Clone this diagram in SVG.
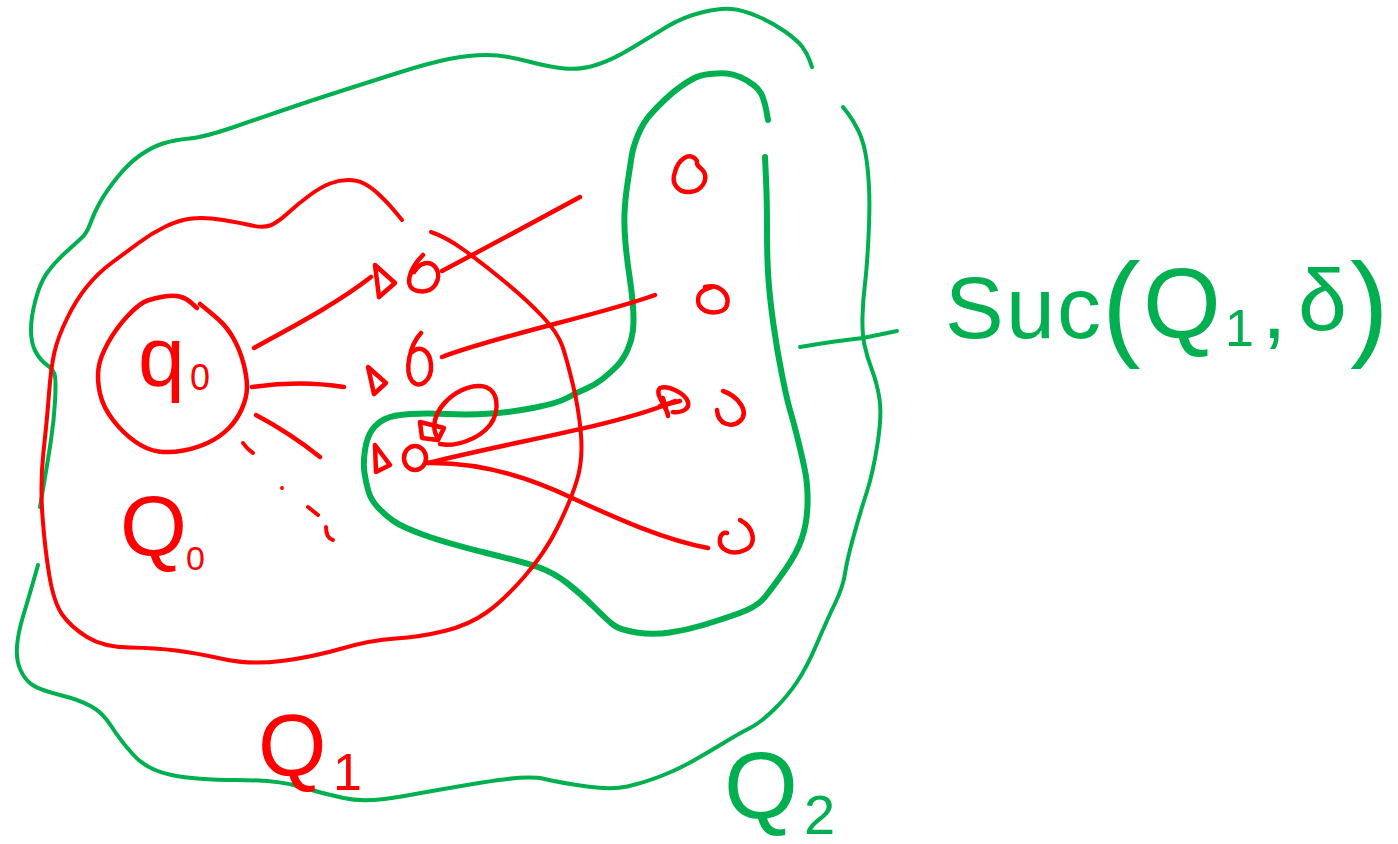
<svg xmlns="http://www.w3.org/2000/svg" width="1398" height="844" viewBox="0 0 1398 844">
<style>
.r{fill:none;stroke:#ff0000;stroke-width:4.5;stroke-linecap:round;stroke-linejoin:round}
.rt{fill:none;stroke:#ff0000;stroke-width:4;stroke-linecap:round;stroke-linejoin:round}
.g{fill:none;stroke:#00b050;stroke-width:4;stroke-linecap:round;stroke-linejoin:round}
.gk{fill:none;stroke:#00b050;stroke-width:6;stroke-linecap:round;stroke-linejoin:round}
.tr{fill:#ff0000;font-family:"Liberation Sans",Arial,sans-serif}
.tg{fill:#00b050;font-family:"Liberation Sans",Arial,sans-serif}
</style>
<rect width="1398" height="844" fill="#ffffff"/>
<g id="region-Q2-outer">
<path class="g" d="M812,67 L809.5,60 Q807,53 802,46.5 Q797,40 785,31.5 Q773,23 758,16.5 Q743,10 731.5,9 Q720,8 701.5,12.5 Q683,17 666.5,27 Q650,37 631,48.5 Q612,60 596,65 Q580,70 564.5,68.5 Q549,67 526.5,61 Q504,55 486.5,55 Q469,55 449,59 Q429,63 397.5,73 Q366,83 339.5,91.5 Q313,100 288,108.5 Q263,117 234,127 Q205,137 189.5,138.5 Q174,140 163,143.5 Q152,147 140.5,155 Q129,163 118,176.5 Q107,190 100.5,201.5 Q94,213 90.5,223 Q87,233 81.5,238 Q76,243 65,253 Q54,263 47,273 Q40,283 35.5,300 Q31,317 31,330 Q31,343 35.5,351.5 Q40,360 47,365 Q54,370 55,376.5 Q56,383 55,401.5 Q54,420 51,440 Q48,460 44,483.5 L40,507"/>
<path class="g" d="M38,565 L33,582.5 Q28,600 23,616.5 Q18,633 17,646.5 Q16,660 20.5,670 Q25,680 32.5,685 Q40,690 60,695 Q80,700 91.5,706.5 Q103,713 111.5,726.5 Q120,740 133.5,755 Q147,770 171.5,775 Q196,780 236.5,780 Q277,780 299,786.5 Q321,793 343.5,798 Q366,803 401.5,796.5 Q437,790 482,782.5 Q527,775 544.5,779 Q562,783 587,786.5 Q612,790 627.5,786.5 Q643,783 660,776.5 Q677,770 692,761.5 Q707,753 723.5,743 Q740,733 750,728 Q760,723 773.5,710 Q787,697 797,682 Q807,667 817,643.5 Q827,620 835,603.5 Q843,587 845,573.5 Q847,560 853.5,536.5 Q860,513 866.5,493 Q873,473 877.5,444 Q882,415 879.5,399 Q877,383 872,370 Q867,357 864.5,345 Q862,333 862.5,316.5 Q863,300 865,283.5 Q867,267 868.5,237 Q870,207 869,187 Q868,167 865.5,153.5 Q863,140 858,130 Q853,120 848,113.5 L843,107"/>
</g>
<g id="region-suc">
<path class="gk" d="M768,120 L766.5,111.5 Q765,103 762.5,96.5 Q760,90 753.5,85 Q747,80 740,77 Q733,74 726.5,73.5 Q720,73 710,74 Q700,75 693.5,78.5 Q687,82 680,87 Q673,92 665,99.5 Q657,107 650,115 Q643,123 638,135 Q633,147 631.5,157 Q630,167 627.5,183.5 Q625,200 624.5,213.5 Q624,227 625.5,243.5 Q627,260 629.5,276.5 Q632,293 633,306.5 Q634,320 633,330 Q632,340 627.5,350 Q623,360 616.5,366.5 Q610,373 602.5,379 Q595,385 585.5,389 Q576,393 567,398 Q558,403 535.5,407.5 Q513,412 491,413.5 Q469,415 448,414 Q427,413 410,414 Q393,415 385,419 Q377,423 372,430 Q367,437 365,450 Q363,463 364.5,473 Q366,483 368.5,491.5 Q371,500 378,507.5 Q385,515 393.5,521 Q402,527 424,535 Q446,543 486.5,553 Q527,563 540.5,568 Q554,573 567,583 Q580,593 593.5,606.5 Q607,620 613.5,625 Q620,630 636.5,632.5 Q653,635 670,632.5 Q687,630 703.5,625 Q720,620 738.5,613.5 Q757,607 765,597 Q773,587 785,570 Q797,553 802,538 Q807,523 807.5,505 Q808,487 805.5,473.5 Q803,460 798,440 Q793,420 790,410 Q787,400 782,375 Q777,350 773.5,325 Q770,300 768.5,280 Q767,260 767,230 Q767,200 766,178.5 L765,157"/>
</g>
<g id="region-Q1">
<path class="rt" d="M402,220 L395,211.5 Q388,203 379.5,195 Q371,187 364,183.5 Q357,180 348,180 Q339,180 330,183.5 Q321,187 310,195 Q299,203 288,213 Q277,223 270,225.5 Q263,228 252,225.5 Q241,223 223,220 Q205,217 192,218.5 Q179,220 165.5,226.5 Q152,233 138.5,243 Q125,253 111.5,263 Q98,273 87,286.5 Q76,300 67,318.5 Q58,337 54.5,352 Q51,367 49,393.5 Q47,420 43.5,451.5 Q40,483 42.5,516.5 Q45,550 49.5,576.5 Q54,603 62.5,615 Q71,627 87,637 Q103,647 129.5,647.5 Q156,648 176,650.5 Q196,653 223,659 Q250,665 281.5,661 Q313,657 342,648.5 Q371,640 395.5,638.5 Q420,637 444.5,631 Q469,625 486.5,612.5 Q504,600 524.5,576.5 Q545,553 558,526.5 Q571,500 577,480 Q583,460 581,435 Q579,410 573,385 Q567,360 562.5,346.5 Q558,333 542.5,316.5 Q527,300 504.5,281.5 Q482,263 464,250 Q446,237 431,232"/>
</g>
<g id="node-q0">
<path class="r" d="M197,308 L191.5,303 Q186,298 179.5,296.5 Q173,295 164,296.5 Q155,298 147.5,300.5 Q140,303 128.5,315 Q117,327 108.5,342 Q100,357 98.5,368.5 Q97,380 100,393.5 Q103,407 113,420 Q123,433 135,441.5 Q147,450 158.5,451.5 Q170,453 183.5,450.5 Q197,448 208.5,442.5 Q220,437 228.5,428.5 Q237,420 242,408.5 Q247,397 247,387 Q247,377 243.5,363.5 Q240,350 233.5,338.5 Q227,327 218.5,319.5 Q210,312 200,304"/>
<text class="tr" x="138" y="386" font-size="84">q<tspan font-size="36" x="190" y="390">0</tspan></text>
</g>
<g id="label-Q0">
<text class="tr" x="120" y="556" font-size="86">Q<tspan font-size="34" x="186" y="570">0</tspan></text>
</g>
<g id="label-Q1">
<text class="tr" x="258" y="776" font-size="88">Q<tspan font-size="52" x="333" y="790">1</tspan></text>
</g>
<g id="label-Q2">
<text class="tg" x="724" y="818" font-size="95">Q<tspan font-size="56" x="804" y="834">2</tspan></text>
</g>
<g id="label-suc">
<text class="tg" font-size="88" y="338"><tspan x="945">S</tspan><tspan x="1006">u</tspan><tspan x="1057">c</tspan><tspan x="1102" font-size="116" y="345">(</tspan><tspan x="1143" font-size="100" y="338">Q</tspan><tspan x="1225" font-size="52" y="346">1</tspan><tspan x="1262" y="338">,</tspan><tspan x="1298" y="330">δ</tspan><tspan x="1350" font-size="116" y="345">)</tspan></text>
</g>
<g id="state-a1">
<path class="r" d="M423,255 C410,268 402,288 418,291 C435,294 442,278 436,268 C430,260 420,262 414,272"/>
</g>
<g id="state-a2">
<path class="r" d="M421,333 C410,345 404,370 412,381 C420,390 432,380 431,365 C430,350 420,345 412,352"/>
</g>
<g id="state-a3">
<ellipse class="r" cx="415" cy="458" rx="11" ry="12"/>
</g>
<g id="state-r1">
<path class="r" d="M697,161 C690,150 678,160 675,172 C670,185 680,193 690,192 C702,191 708,180 704,172 C701,167 697,167 697,163"/>
</g>
<g id="state-r2">
<path class="r" d="M705,287 C720,283 730,295 727,305 C724,315 705,315 699,305 C696,296 700,290 712,287"/>
</g>
<g id="state-r3">
<path class="r" d="M723,391 C738,396 750,412 740,421 C732,428 718,425 717,410"/>
</g>
<g id="state-r4">
<path class="r" d="M740,520 C755,528 757,545 745,550 C732,556 718,550 720,538 C721,534 724,532 727,533"/>
</g>
<g id="connectors">
<path class="r" d="M254,348 C290,328 335,305 371,277"/>
<path class="r" d="M375,265 L395,283 L379,297 Z"/>
<path class="r" d="M252,387 Q300,380 344,387"/>
<path class="r" d="M368,367 L386,383 L374,394 Z"/>
<path class="r" d="M256,415 Q290,433 320,457"/>
<path class="rt" d="M243,443 Q247,449 253,453"/>
<circle cx="282" cy="488" r="2" fill="#ff0000"/>
<path class="rt" d="M308,507 L318,515"/>
<path class="rt" d="M326,527 Q326,538 333,540"/>
<path class="r" d="M442,271 Q510,235 580,197"/>
<path class="r" d="M442,357 C500,335 600,315 655,295"/>
<path class="r" d="M437,437 C425,415 455,385 480,386 C500,387 500,412 490,425 C478,440 455,447 440,444"/>
<path class="r" d="M420,422 L444,428 L438,440 L422,438 Z"/>
<path class="r" d="M375,445 L390,465 L376,472 Z"/>
<path class="r" d="M428,463 C520,440 620,425 675,401"/>
<path class="r" d="M668,414 C662,400 655,393 660,388 C668,385 685,393 688,402 C690,410 680,413 673,412 M663,398 L668,416 M660,406 L680,401"/>
<path class="r" d="M428,463 C480,462 530,478 570,497 C620,520 665,540 708,548"/>
<path class="g" d="M800,347 Q835,341 863,338 L897,331"/>
</g>
</svg>
